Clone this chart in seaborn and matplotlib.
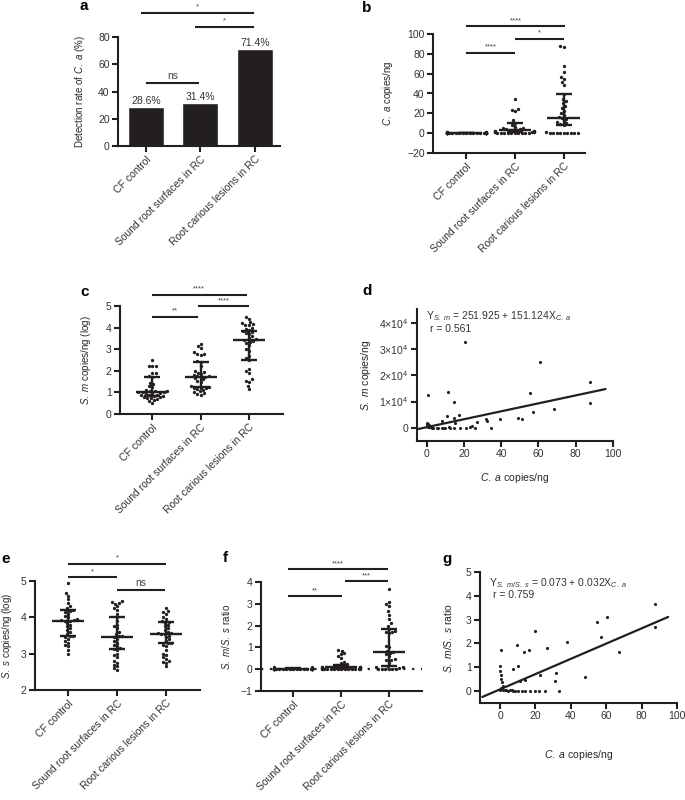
import warnings
import numpy as np
import pandas as pd
import matplotlib
matplotlib.use('Agg')
import matplotlib.pyplot as plt
import seaborn as sns

warnings.filterwarnings('ignore')

groups = ['CF control', 'Sound root surfaces in RC', 'Root carious lesions in RC']

# a: detection rate of C. albicans (%)
detect_rate = [28.6, 31.4, 71.4]

# b: C. a copies/ng
ca_cf = [1.5, 1.2, 1.0, 0.8, 0.6, 0.5, 0.4, 0.3, 0.2, 0.1] + [0.0] * 25
ca_sound = [34, 24, 23, 22, 13, 10, 8, 6, 5, 5, 4, 4, 3, 3, 3, 2, 2, 2, 2, 1.5,
            1.5, 1, 1, 1, 1, 0.5, 0.5, 0.5, 0, 0, 0, 0, 0, 0, 0]
ca_root = [88, 87, 68, 62, 57, 55, 52, 49, 39, 34, 32, 30, 27, 25, 22, 20, 18, 16,
           15, 14, 12, 11, 10, 9, 8, 1, 0.5, 0, 0, 0, 0, 0, 0, 0, 0]
ca_mid = [0.3, 3.0, 15.5]
ca_low = [0.0, 1.0, 8.5]
ca_high = [0.6, 10.0, 39.0]

# c: S. m copies/ng (log)
sm_cf = [2.5, 2.2, 2.2, 2.2, 1.9, 1.9, 1.75, 1.7, 1.45, 1.4, 1.3, 1.25, 1.1, 1.08,
         1.05, 1.05, 1.02, 1.0, 1.0, 0.98, 0.95, 0.92, 0.9, 0.9, 0.88, 0.85, 0.82,
         0.8, 0.78, 0.75, 0.72, 0.7, 0.65, 0.6, 0.52]
sm_sound = [3.25, 3.15, 3.05, 2.85, 2.8, 2.78, 2.75, 2.45, 2.4, 2.2, 2.0, 1.95, 1.9,
            1.85, 1.8, 1.75, 1.75, 1.72, 1.7, 1.65, 1.6, 1.55, 1.5, 1.3, 1.25, 1.22,
            1.2, 1.2, 1.15, 1.1, 1.05, 1.0, 0.95, 0.92, 0.9]
sm_root = [4.5, 4.4, 4.25, 4.2, 4.15, 4.1, 4.1, 4.0, 3.95, 3.9, 3.85, 3.8, 3.75, 3.7,
           3.6, 3.5, 3.45, 3.42, 3.4, 3.35, 3.3, 3.2, 3.0, 2.9, 2.7, 2.6, 2.5, 2.1,
           2.0, 1.9, 1.6, 1.55, 1.5, 1.3, 1.15]
sm_mid = [1.02, 1.73, 3.42]
sm_low = [0.84, 1.23, 2.5]
sm_high = [1.70, 2.42, 3.85]

# d: S. m vs C. a
d_ca = [20.5, 60.7, 87.5, 87.5, 55.5, 11.3, 14.5, 0.5, 10.7, 17.3, 14.5, 15.2, 8.4,
        26.8, 31.8, 32.5, 39.1, 49.1, 51.3, 57.3, 68.2, 34.5, 25.9, 23.4, 24.1, 20.9,
        17.9, 14.8, 0, 0.2, 0.5, 0.8, 1.2, 1.8, 2.7, 3.6, 5.4, 6.3, 8.0, 9.0, 9.8,
        12.0, 0.3, 0.6, 1.0, 12.5]
d_sm = [32600, 25000, 17500, 9500, 13300, 13600, 10000, 12400, 4400, 4800, 3600,
        1700, 2700, 2200, 3200, 2700, 3400, 3900, 3400, 6000, 7200, 100, 0, 300, 600,
        0, 0, 0, 1500, 800, 1000, 300, 500, 200, 0, 100, 0, 0, 0, 0, 100, 500, 1900,
        1400, 900, 0]
d_intercept, d_slope = 251.925, 151.124
d_line_x = [-5, 96]

# e: S. s copies/ng (log)
ss_cf = [4.95, 4.68, 4.6, 4.5, 4.4, 4.3, 4.25, 4.2, 4.18, 4.15, 4.1, 4.05, 4.0, 3.95,
         3.93, 3.92, 3.91, 3.9, 3.85, 3.8, 3.75, 3.7, 3.65, 3.6, 3.55, 3.5, 3.48,
         3.45, 3.4, 3.35, 3.3, 3.25, 3.2, 3.1, 3.0]
ss_sound = [4.45, 4.42, 4.4, 4.38, 4.3, 4.25, 4.2, 4.1, 4.0, 3.9, 3.8, 3.75, 3.7,
            3.6, 3.55, 3.5, 3.48, 3.46, 3.4, 3.35, 3.3, 3.25, 3.2, 3.15, 3.12, 3.1,
            3.0, 2.95, 2.9, 2.8, 2.75, 2.7, 2.65, 2.6, 2.55]
ss_root = [4.25, 4.18, 4.15, 4.1, 4.0, 3.95, 3.9, 3.88, 3.85, 3.8, 3.75, 3.7, 3.65,
           3.6, 3.58, 3.56, 3.55, 3.54, 3.5, 3.45, 3.4, 3.35, 3.3, 3.28, 3.25, 3.2,
           3.1, 3.0, 2.95, 2.9, 2.85, 2.8, 2.78, 2.75, 2.65]
ss_mid = [3.91, 3.46, 3.54]
ss_low = [3.50, 3.14, 3.28]
ss_high = [4.20, 4.02, 3.88]

# f: S. m / S. s ratio
ratio_cf = [0.1, 0.08, 0.06, 0.05, 0.04, 0.03, 0.03, 0.02, 0.02, 0.01] + [0.0] * 25
ratio_sound = [0.9, 0.85, 0.75, 0.7, 0.6, 0.5, 0.35, 0.3, 0.25, 0.2, 0.18, 0.15,
               0.12, 0.1, 0.1, 0.08, 0.08, 0.06, 0.05, 0.05, 0.04, 0.03, 0.03, 0.02,
               0.02, 0.01, 0.01] + [0.0] * 8
ratio_root = [3.7, 3.1, 3.0, 2.9, 2.65, 2.5, 2.3, 2.1, 2.0, 1.85, 1.75, 1.72, 1.7,
              1.65, 1.05, 1.0, 0.85, 0.8, 0.75, 0.7, 0.6, 0.45, 0.42, 0.4, 0.3, 0.15,
              0.1, 0.1, 0.05, 0, 0, 0, 0, 0, 0]
ratio_mid = [0.03, 0.1, 0.8]
ratio_low = [0.0, 0.02, 0.14]
ratio_high = [0.05, 0.2, 1.85]

# g: ratio vs C. a
g_ca = [87.4, 87.4, 60.2, 54.9, 56.8, 67.5, 38.1, 19.8, 26.4, 16.4, 13.6, 9.6, 10.4,
        7.4, 0.3, 31.9, 30.9, 48.3, 22.8, 14.3, 11.5, 33.4, 25.5, 22.3, 20.0, 17.0,
        14.3, 12.3, 10.0, 7.2, 5.6, 4.3, 2.8, 1.9, 0, 0.2, 0.4, 0.8, 1.2, 1.5, 0.5,
        0.1, 3.5, 6.5, 8.5]
g_ratio = [3.67, 2.67, 3.11, 2.88, 2.29, 1.64, 2.05, 2.53, 1.82, 1.72, 1.64, 1.94,
           1.05, 0.92, 1.72, 0.75, 0.41, 0.61, 0.69, 0.47, 0.44, 0, 0, 0, 0, 0, 0, 0,
           0, 0, 0.04, 0.02, 0.04, 0.03, 1.07, 0.86, 0.68, 0.5, 0.37, 0.23, 0.12,
           0.05, 0.06, 0.03, 0.02]
g_intercept, g_slope = 0.073, 0.032
g_line_x = [-10, 95]

INK = '#231f20'
W, H = 685, 800

sns.set_style('ticks')
plt.rcParams['font.family'] = ['Liberation Sans', 'DejaVu Sans']
plt.rcParams['mathtext.fontset'] = 'custom'
plt.rcParams['mathtext.rm'] = 'Liberation Sans'
plt.rcParams['mathtext.it'] = 'Liberation Sans:italic'
plt.rcParams['axes.edgecolor'] = INK
plt.rcParams['xtick.color'] = INK
plt.rcParams['ytick.color'] = INK
plt.rcParams['text.color'] = '#333333'

fig = plt.figure(figsize=(W / 100, H / 100), dpi=100)


def add_ax(x0, y0, x1, y1):
    return fig.add_axes([x0 / W, 1 - y1 / H, (x1 - x0) / W, (y1 - y0) / H])


def style(ax):
    sns.despine(ax=ax)
    for s in ['left', 'bottom']:
        ax.spines[s].set_linewidth(1.5)
    ax.tick_params(width=1.5, length=4, labelsize=7.5, pad=2, labelcolor='#333333')


def cat_ticks(ax):
    ax.set_xticks([0, 1, 2])
    ax.set_xticklabels(groups, rotation=45, ha='right', va='top', rotation_mode='anchor')
    ax.set_xlabel('')


def sig(ax, spans, heights, labels):
    for (x0, x1), h, lab in zip(spans, heights, labels):
        ax.plot([x0, x1], [h, h], color=INK, lw=1.5, clip_on=False, solid_capstyle='butt')
        ax.annotate(lab, ((x0 + x1) / 2, h), xytext=(0, 1.5), textcoords='offset points',
                    ha='center', va='bottom', fontsize=7.5 if lab == 'ns' else 5.5,
                    color='#444444', annotation_clip=False)


def dots(ax, values, mid, low, high):
    df = pd.DataFrame({'group': np.repeat(groups, [len(v) for v in values]),
                       'value': np.concatenate(values)})
    sns.swarmplot(data=df, x='group', y='value', order=groups, color=INK, size=2.4,
                  linewidth=0, ax=ax, zorder=3)
    pos = np.arange(3)
    mid, low, high = np.array(mid), np.array(low), np.array(high)
    ax.errorbar(pos, mid, yerr=[mid - low, high - mid], fmt='none', ecolor=INK,
                elinewidth=1.7, capsize=6, capthick=1.7, zorder=4)
    ax.hlines(mid, pos - 0.33, pos + 0.33, color=INK, lw=1.7, zorder=4)
    cat_ticks(ax)


def panel_label(x, y, s):
    fig.text(x / W, 1 - y / H, s, fontsize=11, fontweight='bold', color='black',
             ha='center', va='center')


# ---- a
ax = add_ax(118, 37, 280, 146)
sns.barplot(x=groups, y=detect_rate, color=INK, saturation=1, width=0.66, ax=ax)
for i, v in enumerate(detect_rate):
    ax.text(i, v + 0.8, f'{v}%', ha='center', va='bottom', fontsize=7.5)
ax.set_ylim(0, 80)
ax.set_yticks([0, 20, 40, 60, 80])
ax.set_xlim(-0.51, 2.46)
cat_ticks(ax)
style(ax)
ax.set_ylabel(r'Detection rate of $\mathit{C.\ a}$ (%)', fontsize=7)
ax.yaxis.set_label_coords(-0.19, 0.5)
sig(ax, [(-0.09, 1.98), (0.9, 1.98), (0, 0.98)], [97.8, 87.4, 46], ['*', '*', 'ns'])

# ---- b
ax = add_ax(433, 34, 585, 153)
dots(ax, [ca_cf, ca_sound, ca_root], ca_mid, ca_low, ca_high)
ax.set_ylim(-20, 100)
ax.set_yticks(range(-20, 101, 20))
ax.set_xlim(-0.68, 2.44)
style(ax)
ax.set_ylabel(r'$\mathit{C.\ a}$ copies/ng', fontsize=7)
ax.yaxis.set_label_coords(-0.25, 0.5)
sig(ax, [(0, 2.03), (1.0, 2.0), (0, 1.0)], [108, 95, 81], ['****', '*', '****'])

# ---- c
ax = add_ax(120, 306, 283, 414)
dots(ax, [sm_cf, sm_sound, sm_root], sm_mid, sm_low, sm_high)
ax.set_ylim(0, 5)
ax.set_yticks(range(0, 6))
ax.set_xlim(-0.66, 2.70)
style(ax)
ax.set_ylabel(r'$\mathit{S.\ m}$ copies/ng (log)', fontsize=7)
ax.yaxis.set_label_coords(-0.165, 0.5)
sig(ax, [(0, 1.95), (0.95, 2.0), (0, 0.95)], [5.53, 4.98, 4.5], ['****', '****', '**'])

# ---- d
ax = add_ax(417, 309, 613, 441)
sns.scatterplot(x=d_ca, y=d_sm, color=INK, s=5, linewidth=0, ax=ax, zorder=3)
lx = np.array(d_line_x, dtype=float)
sns.lineplot(x=lx, y=d_intercept + d_slope * lx, color=INK, lw=1.6, ax=ax)
ax.set_xlim(-5.2, 100)
ax.set_ylim(-5000, 45200)
ax.set_xticks(range(0, 101, 20))
ax.set_yticks([0, 10000, 20000, 30000, 40000])
ax.set_yticklabels(['0', r'1×10$^4$', r'2×10$^4$', r'3×10$^4$', r'4×10$^4$'])
style(ax)
ax.set_xlabel(r'$\mathit{C.\ a}$ copies/ng', fontsize=7.5)
ax.set_ylabel(r'$\mathit{S.\ m}$ copies/ng', fontsize=7.5)
ax.yaxis.set_label_coords(-0.225, 0.5)
ax.xaxis.set_label_coords(0.5, -0.23)
ax.text(0.046, 0.995, r'Y$_{\mathit{S.\ m}}$ = 251.925 + 151.124X$_{\mathit{C.\ a}}$',
        transform=ax.transAxes, fontsize=7.5, va='top')
ax.text(0.066, 0.89, 'r = 0.561', transform=ax.transAxes, fontsize=7.5, va='top')

# ---- e
ax = add_ax(35, 581, 200, 690)
dots(ax, [ss_cf, ss_sound, ss_root], ss_mid, ss_low, ss_high)
ax.set_ylim(2, 5)
ax.set_yticks([2, 3, 4, 5])
ax.set_xlim(-0.67, 2.69)
style(ax)
ax.set_ylabel(r'$\mathit{S.\ s}$ copies/ng (log)', fontsize=7)
ax.yaxis.set_label_coords(-0.13, 0.5)
sig(ax, [(0, 2.0), (0, 1.0), (1.0, 1.98)], [5.47, 5.11, 4.75], ['*', '*', 'ns'])

# ---- f
ax = add_ax(261, 582, 422, 691)
ax.axhline(0, color=INK, lw=1.6, ls=(0, (1, 3)), zorder=2)
dots(ax, [ratio_cf, ratio_sound, ratio_root], ratio_mid, ratio_low, ratio_high)
ax.set_ylim(-1, 4)
ax.set_yticks(range(-1, 5))
ax.set_xlim(-0.67, 2.69)
style(ax)
ax.set_ylabel(r'$\mathit{S.\ m/S.\ s}$ ratio', fontsize=7)
ax.yaxis.set_label_coords(-0.18, 0.5)
sig(ax, [(-0.1, 1.98), (1.08, 1.98), (-0.1, 1.02)], [4.59, 4.04, 3.35], ['****', '***', '**'])

# ---- g
ax = add_ax(480, 572, 677, 703)
sns.scatterplot(x=g_ca, y=g_ratio, color=INK, s=5, linewidth=0, ax=ax, zorder=3)
lx = np.array(g_line_x, dtype=float)
sns.lineplot(x=lx, y=g_intercept + g_slope * lx, color=INK, lw=1.6, ax=ax)
ax.set_xlim(-11.3, 100)
ax.set_ylim(-0.5, 5)
ax.set_xticks(range(0, 101, 20))
ax.set_yticks(range(0, 6))
style(ax)
ax.set_xlabel(r'$\mathit{C.\ a}$ copies/ng', fontsize=7.5)
ax.set_ylabel(r'$\mathit{S.\ m/S.\ s}$ ratio', fontsize=7.5)
ax.yaxis.set_label_coords(-0.13, 0.5)
ax.xaxis.set_label_coords(0.5, -0.34)
ax.text(0.046, 0.97, r'Y$_{\mathit{S.\ m/S.\ s}}$ = 0.073 + 0.032X$_{\mathit{C.\ a}}$',
        transform=ax.transAxes, fontsize=7.5, va='top')
ax.text(0.066, 0.86, 'r = 0.759', transform=ax.transAxes, fontsize=7.5, va='top')

panel_label(84, 6, 'a')
panel_label(367, 8, 'b')
panel_label(85, 292, 'c')
panel_label(367, 291, 'd')
panel_label(6, 559, 'e')
panel_label(225, 558, 'f')
panel_label(447, 559, 'g')

fig.savefig('out.png', dpi=100)
